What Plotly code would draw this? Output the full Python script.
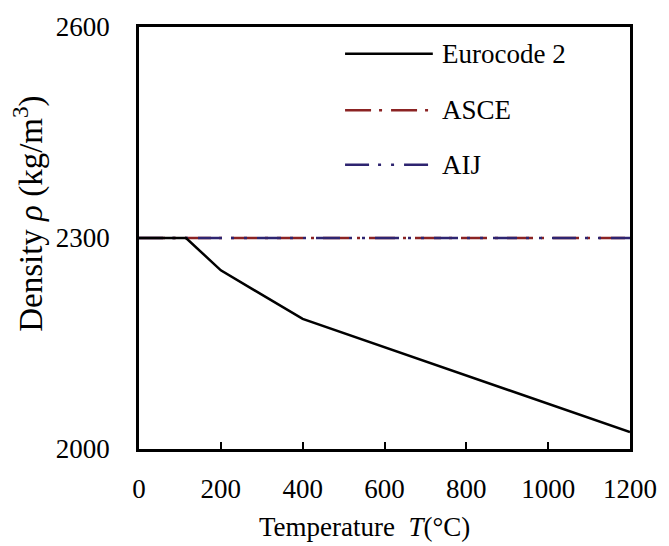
import plotly.graph_objects as go

# Data
temps_ec2 = [0, 115, 200, 400, 1200]
dens_ec2 = [2300, 2300, 2254, 2185, 2024]
temps_asce = [0, 1200]
dens_asce = [2300, 2300]
temps_aij = [0, 1200]
dens_aij = [2300, 2300]
x_ticks = [0, 200, 400, 600, 800, 1000, 1200]
y_ticks = [2000, 2300, 2600]

FONT = "Liberation Serif"
RED = "#8b2323"
BLUE = "#2e2470"
dash_asce = "26px,8px,3px,9px"
dash_aij = "24px,9px,3px,10px,3px,10px"

fig = go.Figure()
fig.add_trace(go.Scatter(x=temps_asce, y=dens_asce, mode="lines",
                         line=dict(color=RED, width=2.5, dash=dash_asce), showlegend=False))
fig.add_trace(go.Scatter(x=temps_aij, y=dens_aij, mode="lines",
                         line=dict(color=BLUE, width=2.5, dash=dash_aij), showlegend=False))
fig.add_trace(go.Scatter(x=temps_ec2, y=dens_ec2, mode="lines",
                         line=dict(color="black", width=2.5), showlegend=False))

L, R, T, B = 139, 32, 23, 97
W, H = 669, 546
pw, ph = W - L - R, H - T - B

def px(xpix):
    return (xpix - L) / pw

def py(ypix):
    return (H - B - ypix) / ph

# manual legend
entries = [("Eurocode 2", "black", "solid", 50),
           ("ASCE", RED, dash_asce, 107),
           ("AIJ", BLUE, dash_aij, 162)]
shapes = []
annotations = []
for name, col, dsh, yp in entries:
    shapes.append(dict(type="line", xref="paper", yref="paper",
                       x0=px(348), x1=px(437), y0=py(yp), y1=py(yp),
                       line=dict(color=col, width=2.5, dash=dsh)))
    annotations.append(dict(text=name, xref="paper", yref="paper",
                            x=px(444), y=py(yp), xanchor="left", yanchor="middle",
                            showarrow=False, font=dict(family=FONT, size=27, color="black")))

annotations.append(dict(text="Temperature  <i>T</i>(°C)", xref="paper", yref="paper",
                        x=px(368), y=py(528), xanchor="center", yanchor="middle",
                        showarrow=False, font=dict(family=FONT, size=27, color="black")))
annotations.append(dict(text="Density <i>ρ</i> (kg/m<sup>3</sup>)", xref="paper", yref="paper",
                        x=px(27), y=py(212), xanchor="center", yanchor="middle", textangle=-90,
                        showarrow=False, font=dict(family=FONT, size=33, color="black")))

fig.update_layout(
    width=W, height=H,
    margin=dict(l=L, r=R, t=T, b=B),
    paper_bgcolor="white", plot_bgcolor="white",
    shapes=shapes, annotations=annotations,
    font=dict(family=FONT, size=27, color="black"),
)
fig.update_xaxes(range=[0, 1200], tickvals=x_ticks, ticktext=[str(v) for v in x_ticks],
                 showgrid=False, zeroline=False, showline=True, linecolor="black", linewidth=2.5,
                 mirror=True, ticks="inside", ticklen=7, tickwidth=1.5, tickcolor="black",
                 ticklabelstandoff=14)
fig.update_yaxes(range=[2000, 2600], tickvals=y_ticks, ticktext=[str(v) for v in y_ticks],
                 showgrid=False, zeroline=False, showline=True, linecolor="black", linewidth=2.5,
                 mirror=True, ticks="", ticklabelstandoff=21)

fig.write_html("out.html")
